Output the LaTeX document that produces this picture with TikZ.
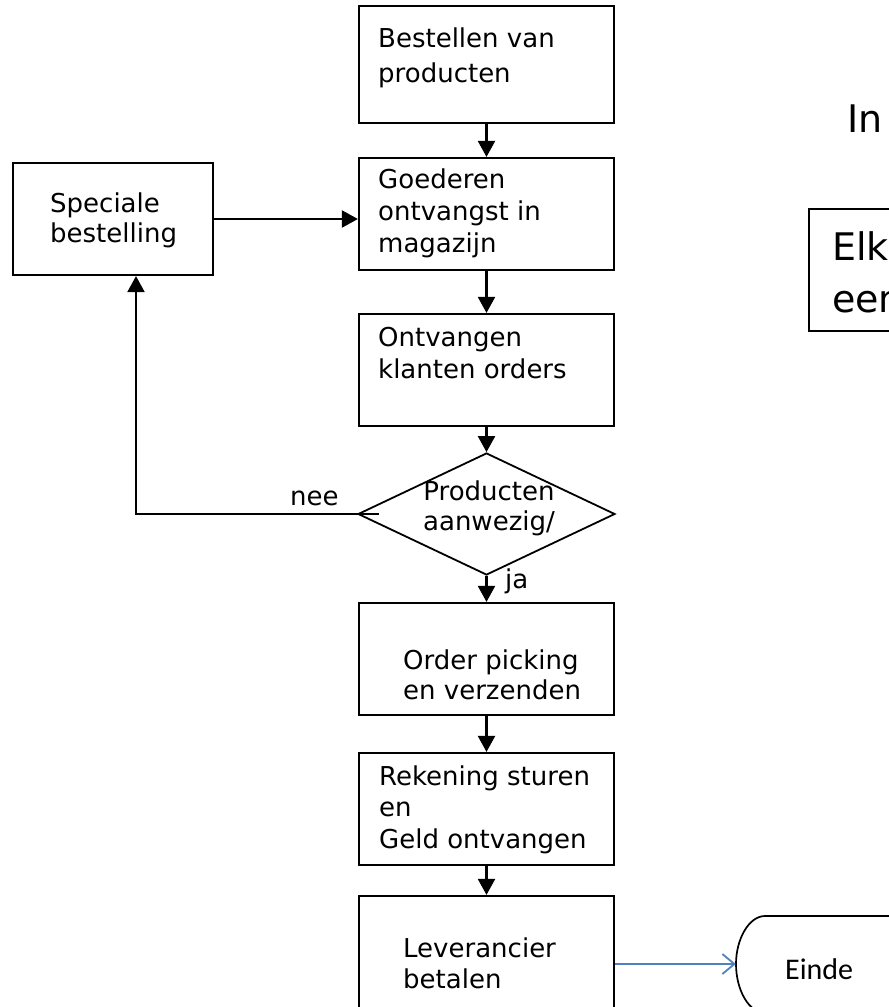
\documentclass[tikz,border=0pt]{standalone}
\usepackage{fontspec}
\setmainfont{DejaVu Sans}
\newfontfamily\calfont{Carlito}
\usetikzlibrary{arrows.meta,shapes.geometric}
\definecolor{arrowblue}{HTML}{4F81BD}
\newcommand\blines[1]{\begin{tabular}[t]{@{}l@{}}#1\end{tabular}}
\newcommand\clines[1]{\begin{tabular}[t]{@{}c@{}}#1\end{tabular}}
\begin{document}
\begin{tikzpicture}[x=1pt,y=-1pt,
  box/.style={draw, line width=2.2pt, minimum width=255pt, inner sep=0pt},
  lbl/.style={anchor=base west, inner sep=0pt, font=\fontsize{26}{32}\selectfont},
  big/.style={anchor=base west, inner sep=0pt, font=\fontsize{38}{52}\selectfont},
  flow/.style={line width=2.2pt, -{Triangle[length=16pt,width=17pt]}},
  blueflow/.style={line width=1.8pt, arrowblue, -{Straight Barb[length=12pt,width=20pt]}},
]
\useasboundingbox (0,0) rectangle (889,1007);
\clip (0,0) rectangle (889,1007);

% main boxes
\node[box, minimum height=117pt] (b1) at (486.5,64.5) {};
\node[box, minimum height=112pt] (b2) at (486.5,214) {};
\node[box, minimum height=112pt] (b3) at (486.5,370) {};
\node[draw, diamond, line width=1.8pt, minimum width=257pt, minimum height=122pt, inner sep=0pt] (d) at (486.5,514) {};
\node[box, minimum height=112pt] (b4) at (486.5,659) {};
\node[box, minimum height=112pt] (b5) at (486.5,809) {};
\node[box, minimum height=120pt] (b6) at (486.5,956) {};
\node[box, minimum width=200pt, minimum height=112pt] (sp) at (113,219) {};

% texts
\node[lbl, font=\fontsize{26}{35}\selectfont] (t1) at (378,47) {\blines{Bestellen van\\producten}};
\node[lbl] (t2) at (378,188) {\blines{Goederen\\ontvangst in\\magazijn}};
\node[lbl] (t3) at (378,346) {\blines{Ontvangen\\klanten orders}};
\node[lbl, anchor=base, font=\fontsize{26}{30}\selectfont] (td) at (489,500) {\clines{Producten\\aanwezig/}};
\node[lbl, font=\fontsize{26}{30}\selectfont] (t4) at (403,669) {\blines{Order picking\\en verzenden}};
\node[lbl, font=\fontsize{26}{31.5}\selectfont] (t5) at (379,785) {\blines{Rekening sturen\\en\\Geld ontvangen}};
\node[lbl, font=\fontsize{26}{31}\selectfont] (t6) at (403,957) {\blines{Leverancier\\betalen}};
\node[lbl, font=\fontsize{26}{30}\selectfont] (tsp) at (50,212) {\blines{Speciale\\bestelling}};
\node[lbl] (nee) at (290,505) {nee};
\node[lbl] (ja) at (505,588) {ja};

% right side
\node[big] (in) at (847,132) {In};
\node[draw, line width=1.5pt, anchor=north west, minimum width=120pt, minimum height=122pt, inner sep=0pt] (elk) at (808,208) {};
\node[big] (elkt) at (832,260) {\blines{Elk\\een}};

% Einde terminator
\node[minimum width=224pt, minimum height=98pt, inner sep=0pt] (einde) at (848,964) {};
\draw[line width=1.7pt] (960,916) -- (765,916) .. controls (749,916) and (736,939) .. (736,964) .. controls (736,990) and (749,1013) .. (765,1013) -- (960,1013);
\node[anchor=base west, inner sep=0pt, font=\fontsize{30}{36}\calfont] (eindet) at (785,979) {Einde};

% connectors
\draw[flow] (b1) -- (b2);
\draw[flow] (b2) -- (b3);
\draw[flow] (b3) -- (d);
\draw[flow] (d) -- (b4);
\draw[flow] (b4) -- (b5);
\draw[flow] (b5) -- (b6);
\draw[flow] (sp.east) -- (sp.east -| b2.west);
\draw[flow] ([xshift=22pt]d.west) -| ([xshift=23pt]sp.south);
\draw[blueflow] (b6.east |- einde.west) -- (einde.west);
\end{tikzpicture}
\end{document}
